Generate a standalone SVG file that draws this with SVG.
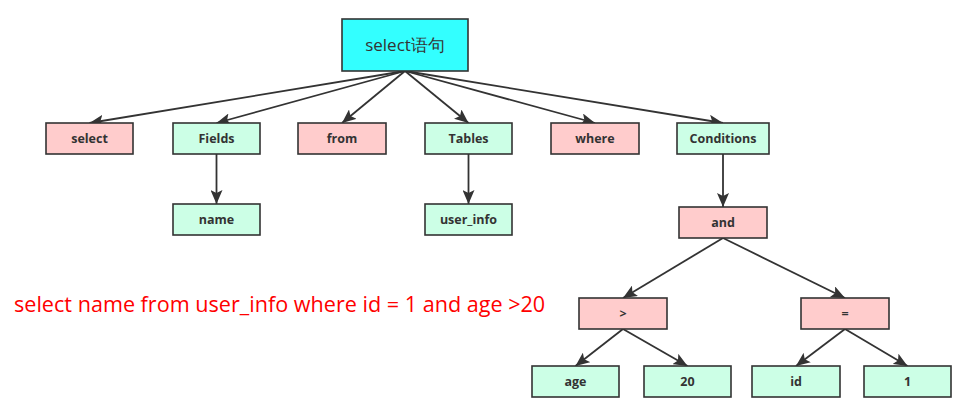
<svg xmlns="http://www.w3.org/2000/svg" width="959" height="414" viewBox="0 0 959 414">
<defs>
<style>
.n rect{stroke:#333;stroke-width:1.6}
.p rect{fill:#FFCCCC}
.g rect{fill:#CCFFE6}
.n text{font-family:"Open Sans","Noto Sans",sans-serif;font-size:12.5px;font-weight:bold;fill:#333;text-anchor:middle}
#edges line{stroke:#333;stroke-width:1.8;marker-end:url(#ah)}
</style>
<marker id="ah" viewBox="0 0 14 12" refX="14" refY="6" markerWidth="14" markerHeight="12" markerUnits="userSpaceOnUse" orient="auto">
<path d="M0,0 L14,6 L0,12 L3,6 Z" fill="#333"/>
</marker>
</defs>
<rect width="959" height="414" fill="#fff"/>
<g id="edges">
<line x1="405" y1="71" x2="89.5" y2="123"/>
<line x1="405" y1="71" x2="216.5" y2="123"/>
<line x1="405" y1="71" x2="342" y2="123"/>
<line x1="405" y1="71" x2="468.5" y2="123"/>
<line x1="405" y1="71" x2="595" y2="123"/>
<line x1="405" y1="71" x2="723" y2="123"/>
<line x1="216.5" y1="154" x2="216.5" y2="204"/>
<line x1="468.5" y1="154" x2="468.5" y2="204"/>
<line x1="723" y1="154" x2="723" y2="207"/>
<line x1="723" y1="238" x2="623" y2="298"/>
<line x1="723" y1="238" x2="845" y2="298"/>
<line x1="623" y1="329" x2="575.5" y2="366"/>
<line x1="623" y1="329" x2="687.5" y2="366"/>
<line x1="845" y1="329" x2="796" y2="366"/>
<line x1="845" y1="329" x2="907.5" y2="366"/>
</g>
<g id="root" class="n"><rect x="342" y="19" width="126" height="52" fill="#33FFFF"/><text x="405" y="51" style="font-weight:normal;font-size:17px">select语句</text></g>
<g id="n-select" class="n p"><rect x="46" y="123" width="87" height="31"/><text x="89.5" y="143">select</text></g>
<g id="n-fields" class="n g"><rect x="173" y="123" width="87" height="31"/><text x="216.5" y="143">Fields</text></g>
<g id="n-from" class="n p"><rect x="298" y="123" width="88" height="31"/><text x="342" y="143">from</text></g>
<g id="n-tables" class="n g"><rect x="425" y="123" width="87" height="31"/><text x="468.5" y="143">Tables</text></g>
<g id="n-where" class="n p"><rect x="551" y="123" width="88" height="31"/><text x="595" y="143">where</text></g>
<g id="n-conditions" class="n g"><rect x="677" y="123" width="92" height="31"/><text x="723" y="143">Conditions</text></g>
<g id="n-name" class="n g"><rect x="173" y="204" width="87" height="31"/><text x="216.5" y="224">name</text></g>
<g id="n-userinfo" class="n g"><rect x="425" y="204" width="87" height="31"/><text x="468.5" y="224">user_info</text></g>
<g id="n-and" class="n p"><rect x="679" y="207" width="88" height="31"/><text x="723" y="227">and</text></g>
<g id="n-gt" class="n p"><rect x="579" y="298" width="88" height="31"/><text x="623" y="318">&gt;</text></g>
<g id="n-eq" class="n p"><rect x="801" y="298" width="88" height="31"/><text x="845" y="318">=</text></g>
<g id="n-age" class="n g"><rect x="532" y="366" width="87" height="31"/><text x="575.5" y="386">age</text></g>
<g id="n-20" class="n g"><rect x="644" y="366" width="87" height="31"/><text x="687.5" y="386">20</text></g>
<g id="n-id" class="n g"><rect x="752" y="366" width="88" height="31"/><text x="796" y="386">id</text></g>
<g id="n-1" class="n g"><rect x="864" y="366" width="87" height="31"/><text x="907.5" y="386">1</text></g>
<text x="14" y="312" font-family="'Open Sans','Noto Sans',sans-serif" font-size="21.6" fill="#FF0000">select name from user_info where id = 1 and age &gt;20</text>
</svg>
